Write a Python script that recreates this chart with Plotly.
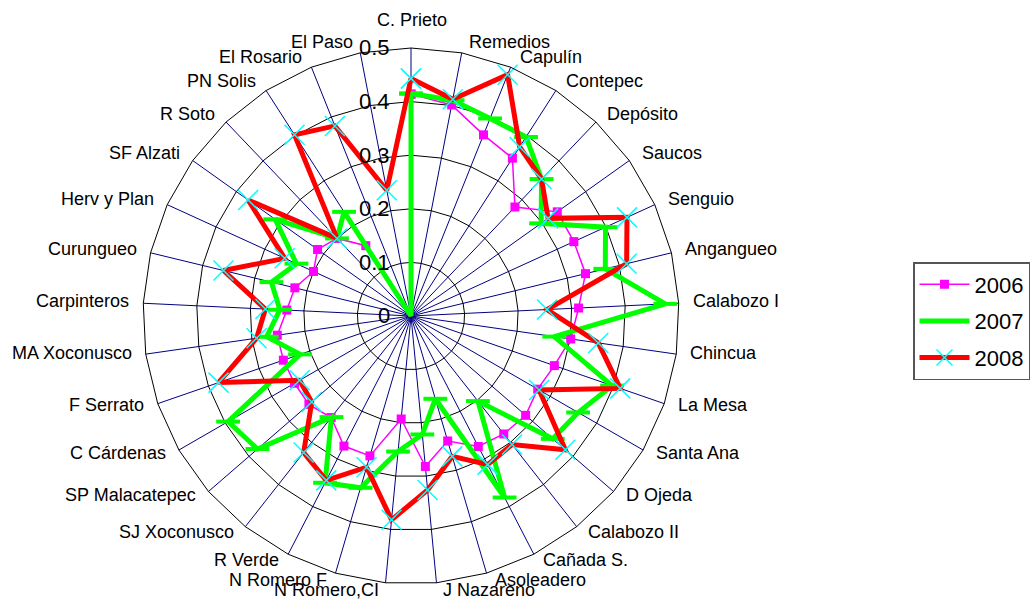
import math
import plotly.graph_objects as go

categories = ["C. Prieto", "Remedios", "Capulín", "Contepec", "Depósito", "Saucos",
              "Senguio", "Angangueo", "Calabozo I", "Chincua", "La Mesa", "Santa Ana",
              "D Ojeda", "Calabozo II", "Cañada S.", "Asoleadero", "J Nazareno",
              "N Romero,CI", "N Romero F", "R Verde", "SJ Xoconusco", "SP Malacatepec",
              "C Cárdenas", "F Serrato", "MA Xoconusco", "Carpinteros", "Curungueo",
              "Herv y Plan", "SF Alzati", "R Soto", "PN Solis", "El Rosario", "El Paso"]

v2006 = [0.414, 0.401, 0.364, 0.350, 0.281, 0.335, 0.334, 0.335, 0.313, 0.301, 0.283,
         0.273, 0.283, 0.280, 0.274, 0.243, 0.282, 0.193, 0.272, 0.273, 0.241, 0.252,
         0.251, 0.252, 0.252, 0.232, 0.223, 0.200, 0.214, 0.200, 0.156, 0.0, 0.0]
v2007 = [0.415, 0.410, 0.397, 0.397, 0.353, 0.298, 0.399, 0.373, 0.475, 0.270, 0.397,
         0.360, 0.350, 0.202, 0.381, 0.161, 0.222, 0.254, 0.334, 0.350, 0.240, 0.379,
         0.394, 0.219, 0.272, 0.245, 0.268, 0.235, 0.311, 0.200, 0.231, 0.0, 0.0]
v2008 = [0.443, 0.412, 0.485, 0.375, 0.353, 0.314, 0.443, 0.414, 0.254, 0.353, 0.413,
         0.276, 0.381, 0.305, 0.312, 0.273, 0.326, 0.382, 0.294, 0.345, 0.324, 0.245,
         0.240, 0.380, 0.291, 0.272, 0.360, 0.259, 0.373, 0.200, 0.402, 0.382, 0.239]

series_names = ["2006", "2007", "2008"]
radial_ticks = [0, 0.1, 0.2, 0.3, 0.4, 0.5]
radial_max = 0.5

FONT = "Arial, Liberation Sans, sans-serif"


def closed(vals):
    return list(vals) + [vals[0]]


theta = closed(categories)

fig = go.Figure()
fig.add_trace(go.Scatterpolar(
    r=closed(v2006), theta=theta, name=series_names[0], mode="lines+markers",
    line=dict(color="#FF00FF", width=1.5),
    marker=dict(symbol="square", size=9, color="#FF00FF"),
    legendgroup="a",
))
fig.add_trace(go.Scatterpolar(
    r=closed(v2007), theta=theta, name=series_names[1], mode="lines+markers",
    line=dict(color="#00FF00", width=5),
    marker=dict(symbol="line-ew", size=17, color="#00FF00",
                line=dict(color="#00FF00", width=4)),
    legendgroup="b",
))
fig.add_trace(go.Scatterpolar(
    r=closed(v2008), theta=theta, name=series_names[2], mode="lines+markers",
    line=dict(color="#FF0000", width=5),
    marker=dict(symbol="x-thin", size=20, color="#00FFFF",
                line=dict(color="#00FFFF", width=1.5)),
    legendgroup="c",
))

W, H = 1030, 600
cx, cy, R = 411, 316, 268

annotations = []
# Category labels placed Excel-style just beyond the end of each spoke
n = len(categories)
for k, name in enumerate(categories):
    ang = math.radians(90 - k * 360.0 / n)
    c, s = math.cos(ang), math.sin(ang)
    ex, ey = cx + R * c, cy - R * s
    if abs(c) < 0.05:
        x, y, xa = ex + 1, ey - 28, "center"
    else:
        sign = 1 if c > 0 else -1
        x = ex + sign * (4 + 8 * abs(c))
        y = ey - 9 * s - 2
        xa = "left" if c > 0 else "right"
    annotations.append(dict(
        text=name, x=x / W, y=1 - y / H, xref="paper", yref="paper",
        xanchor=xa, yanchor="middle", showarrow=False,
        font=dict(size=18, family=FONT, color="black"),
    ))

# Radial value labels to the left of the vertical axis, level with each ring
for t in radial_ticks:
    y = cy - R * t / radial_max
    annotations.append(dict(
        text=str(t), x=(cx - 19) / W, y=1 - y / H, xref="paper", yref="paper",
        xanchor="right", yanchor="middle", showarrow=False,
        font=dict(size=22, family=FONT, color="black"),
    ))

fig.update_layout(
    width=W, height=H,
    margin=dict(l=0, r=0, t=0, b=0, autoexpand=False),
    paper_bgcolor="white", plot_bgcolor="white",
    font=dict(family=FONT, color="black"),
    showlegend=True,
    annotations=annotations,
    legend=dict(
        x=913 / W, y=1 - 262 / H, xanchor="left", yanchor="top",
        bordercolor="#555555", borderwidth=1.5, bgcolor="white",
        font=dict(size=22, family=FONT, color="black"),
        traceorder="grouped", tracegroupgap=5, itemwidth=50,
    ),
    polar=dict(
        domain=dict(x=[(cx - R) / W, (cx + R) / W], y=[1 - (cy + R) / H, 1 - (cy - R) / H]),
        bgcolor="white",
        gridshape="linear",
        angularaxis=dict(
            direction="clockwise", rotation=90, type="category",
            showline=True, linecolor="black", linewidth=1,
            showgrid=True, gridcolor="#000080", gridwidth=1,
            ticks="", showticklabels=False,
        ),
        radialaxis=dict(
            range=[0, radial_max], angle=90,
            tickvals=radial_ticks,
            showline=False, showgrid=True, gridcolor="black", gridwidth=1,
            ticks="", showticklabels=False,
        ),
    ),
)

fig.write_html("out.html", config={"displayModeBar": False},
               post_script="document.body.style.margin='0px';")
